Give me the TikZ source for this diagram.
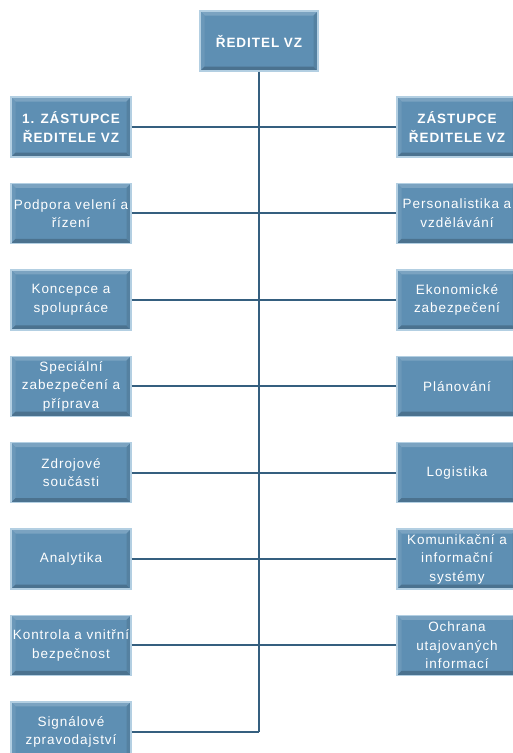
\documentclass[tikz,border=0pt]{standalone}
\usepackage{fontspec}
\setmainfont{Liberation Sans}[LetterSpace=7]
\usetikzlibrary{positioning}

\definecolor{unitfill}{HTML}{5E8FB3}
\definecolor{unitedge}{HTML}{B3CFE2}
\definecolor{spine}{HTML}{355F7F}

\tikzset{
  bevel/.style={path picture={
      \fill[unitfill!82!white] (path picture bounding box.north west) -- (path picture bounding box.north east)
        -- ([shift={(-4.5bp,-4.5bp)}]path picture bounding box.north east) -- ([shift={(4.5bp,-4.5bp)}]path picture bounding box.north west) -- cycle;
      \fill[unitfill!92!white] (path picture bounding box.north west) -- ([shift={(4.5bp,-4.5bp)}]path picture bounding box.north west)
        -- ([shift={(4.5bp,4.5bp)}]path picture bounding box.south west) -- (path picture bounding box.south west) -- cycle;
      \fill[unitfill!80!black] (path picture bounding box.south west) -- ([shift={(4.5bp,4.5bp)}]path picture bounding box.south west)
        -- ([shift={(-4.5bp,4.5bp)}]path picture bounding box.south east) -- (path picture bounding box.south east) -- cycle;
      \fill[unitfill!90!black] (path picture bounding box.south east) -- ([shift={(-4.5bp,4.5bp)}]path picture bounding box.south east)
        -- ([shift={(-4.5bp,-4.5bp)}]path picture bounding box.north east) -- (path picture bounding box.north east) -- cycle;
  }},
  unit/.style={bevel, draw=unitedge, line width=1.4bp, fill=unitfill, text=white,
    minimum width=120bp, minimum height=60bp, inner sep=0bp, align=center,
    font=\fontsize{13.5bp}{18.5bp}\selectfont},
  head/.style={unit, font=\fontsize{13.5bp}{18.5bp}\selectfont\bfseries},
  link/.style={draw=spine, line width=2.1bp},
}

\begin{document}
\begin{tikzpicture}[node distance=25bp]
\useasboundingbox (0,0) rectangle (513bp,-753bp);

\node[head, minimum width=118bp] (ved) at (259bp,-41bp) {ŘEDITEL VZ};

% left column
\node[head] (l1) at (71bp,-127bp) {1. ZÁSTUPCE\\ŘEDITELE VZ};
\node[unit, below=of l1] (l2) {Podpora velení a\\řízení};
\node[unit, below=of l2] (l3) {Koncepce a\\spolupráce};
\node[unit, below=of l3] (l4) {Speciální\\zabezpečení a\\příprava};
\node[unit, below=of l4] (l5) {Zdrojové\\součásti};
\node[unit, below=of l5] (l6) {Analytika};
\node[unit, below=of l6] (l7) {Kontrola a vnitřní\\bezpečnost};
\node[unit, below=of l7] (l8) {Signálové\\zpravodajství};

% right column
\node[head] (r1) at (457bp,-127bp) {ZÁSTUPCE\\ŘEDITELE VZ};
\node[unit, below=of r1] (r2) {Personalistika a\\vzdělávání};
\node[unit, below=of r2] (r3) {Ekonomické\\zabezpečení};
\node[unit, below=of r3] (r4) {Plánování};
\node[unit, below=of r4] (r5) {Logistika};
\node[unit, below=of r5] (r6) {Komunikační a\\informační\\systémy};
\node[unit, below=of r6] (r7) {Ochrana\\utajovaných\\informací};

\draw[link] (ved.south) -- (ved.south |- l8.east);
\draw[link] (l1.east) -- (l1.east -| ved.south)
  (l2.east) -- (l2.east -| ved.south)
  (l3.east) -- (l3.east -| ved.south)
  (l4.east) -- (l4.east -| ved.south)
  (l5.east) -- (l5.east -| ved.south)
  (l6.east) -- (l6.east -| ved.south)
  (l7.east) -- (l7.east -| ved.south)
  (l8.east) -- (l8.east -| ved.south);
\draw[link] (r1.west) -- (r1.west -| ved.south)
  (r2.west) -- (r2.west -| ved.south)
  (r3.west) -- (r3.west -| ved.south)
  (r4.west) -- (r4.west -| ved.south)
  (r5.west) -- (r5.west -| ved.south)
  (r6.west) -- (r6.west -| ved.south)
  (r7.west) -- (r7.west -| ved.south);
%\draw[link] (ved.south) -- ++(0,-10bp);
\end{tikzpicture}
\end{document}
